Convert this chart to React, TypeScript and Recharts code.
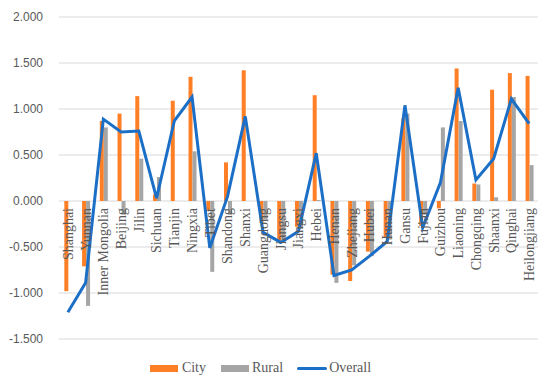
import React from 'react';
import { ComposedChart, Bar, Line, YAxis, XAxis, CartesianGrid, Legend, LabelList } from 'recharts';

const provinces = [
  'Shanghai', 'Yunnan', 'Inner Mongolia', 'Beijing', 'Jilin', 'Sichuan', 'Tianjin', 'Ningxia', 'Tibet',
  'Shandong', 'Shanxi', 'Guangdong', 'Jiangsu', 'Jiangxi', 'Hebei', 'Henan', 'Zhejiang', 'Hubei', 'Hunan',
  'Gansu', 'Fujian', 'Guizhou', 'Liaoning', 'Chongqing', 'Shaanxi', 'Qinghai', 'Heilongjiang',
];
const city = [
  -0.98, -0.71, 0.87, 0.95, 1.14, 0.07, 1.09, 1.35, -0.1, 0.42, 1.42, -0.24, -0.45, -0.28,
  1.15, -0.8, -0.87, -0.55, -0.4, 0.9, -0.27, -0.08, 1.44, 0.19, 1.21, 1.39, 1.36,
];
const rural = [
  0.0, -1.14, 0.8, -0.15, 0.46, 0.26, 0.0, 0.54, -0.77, -0.15, 0.0, -0.2, -0.43, -0.3,
  0.01, -0.89, -0.7, -0.6, -0.42, 0.95, -0.15, 0.8, 0.87, 0.18, 0.04, 1.13, 0.39,
];
const overall = [
  -1.21, -0.89, 0.89, 0.75, 0.76, 0.03, 0.87, 1.13, -0.51, 0.05, 0.92, -0.34, -0.45, -0.33,
  0.52, -0.81, -0.75, -0.6, -0.44, 1.04, -0.29, 0.2, 1.23, 0.23, 0.46, 1.11, 0.84,
];
const yTicks = [-1.5, -1, -0.5, 0, 0.5, 1, 1.5, 2];

const data = provinces.map((name, i) => ({
  name,
  city: city[i],
  rural: rural[i],
  overall: overall[i],
  base: 0,
}));

const ORANGE = '#FF7F27';
const GRAY = '#A5A5A5';
const BLUE = '#1C6FC6';
const TEXT = '#595959';

const CategoryLabel = (props: any) => {
  const { x, y, value } = props;
  return (
    <text
      x={x}
      y={y + 7}
      transform={`rotate(-90 ${x} ${y + 7})`}
      textAnchor="end"
      dy="0.35em"
      fontFamily="'Liberation Serif', 'Times New Roman', serif"
      fontSize={14}
      fill={TEXT}
    >
      {value}
    </text>
  );
};

const LegendContent = () => (
  <div
    style={{
      display: 'flex',
      justifyContent: 'center',
      alignItems: 'center',
      paddingRight: 17,
      fontFamily: "'Liberation Serif', 'Times New Roman', serif",
      fontSize: 14,
      color: TEXT,
      height: 20,
    }}
  >
    <span style={{ width: 28, height: 7, background: ORANGE, marginRight: 4 }} />
    <span style={{ marginRight: 15 }}>City</span>
    <span style={{ width: 28, height: 7, background: GRAY, marginRight: 3 }} />
    <span style={{ marginRight: 14 }}>Rural</span>
    <span style={{ width: 30, height: 3, background: BLUE, borderRadius: 2, marginRight: 2 }} />
    <span>Overall</span>
  </div>
);

export default function App() {
  return (
    <div style={{ position: 'absolute', left: 0, top: 0, background: '#fff' }}>
      <ComposedChart
        width={550}
        height={386}
        data={data}
        margin={{ top: 17, right: 12, bottom: 27, left: 0 }}
        barCategoryGap="30%"
        barGap={0}
      >
        <CartesianGrid vertical={false} stroke="#D9D9D9" />
        <XAxis dataKey="name" hide />
        <YAxis
          width={59}
          domain={[-1.5, 2]}
          ticks={yTicks}
          interval={0}
          axisLine={false}
          tickLine={false}
          tickMargin={10}
          tickFormatter={(v: number) => v.toFixed(3)}
          tick={{ fill: TEXT, fontSize: 12, fontFamily: "'Liberation Sans', Arial, sans-serif" }}
        />
        <Bar dataKey="city" name="City" fill={ORANGE} isAnimationActive={false} />
        <Bar dataKey="rural" name="Rural" fill={GRAY} isAnimationActive={false} />
        <Line
          dataKey="base"
          stroke="none"
          dot={false}
          legendType="none"
          isAnimationActive={false}
        >
          <LabelList dataKey="name" content={CategoryLabel} />
        </Line>
        <Line
          dataKey="overall"
          name="Overall"
          type="linear"
          stroke={BLUE}
          strokeWidth={3}
          dot={false}
          isAnimationActive={false}
        />
        <Legend verticalAlign="bottom" content={LegendContent} wrapperStyle={{ bottom: 8 }} />
      </ComposedChart>
    </div>
  );
}
